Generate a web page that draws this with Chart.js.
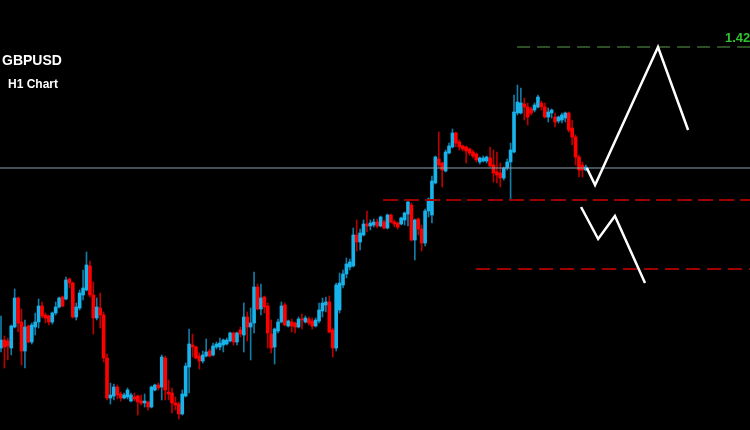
<!DOCTYPE html>
<html><head><meta charset="utf-8">
<script src="https://cdn.jsdelivr.net/npm/chart.js@4.4.0/dist/chart.umd.min.js"></script>
<style>
html,body{margin:0;padding:0;background:#000;}
#wrap{position:relative;width:750px;height:430px;background:#000;overflow:hidden;}
.t{position:absolute;font-family:"Liberation Sans",Arial,sans-serif;font-weight:bold;white-space:nowrap;}
</style></head><body>
<div id="wrap"><canvas id="c"></canvas>
<div class="t" style="left:2px;top:52px;font-size:14px;color:#fff">GBPUSD</div>
<div class="t" style="left:8px;top:77px;font-size:12px;color:#fff">H1 Chart</div>
<div class="t" style="left:725px;top:30px;font-size:13px;color:#2fc42f">1.42</div>
</div>
<script>
// GBPUSD H1 candles
const open = [1.3899,1.3907,1.3906,1.3899,1.3920,1.3949,1.3925,1.3896,1.3921,1.3905,
1.3920,1.3925,1.3941,1.3932,1.3931,1.3925,1.3934,1.3940,1.3950,1.3948,
1.3968,1.3964,1.3930,1.3939,1.3952,1.3957,1.3981,1.3952,1.3929,1.3939,
1.3932,1.3889,1.3849,1.3851,1.3860,1.3853,1.3849,1.3850,1.3846,1.3850,
1.3851,1.3846,1.3844,1.3845,1.3840,1.3857,1.3862,1.3860,1.3889,1.3855,
1.3854,1.3844,1.3843,1.3833,1.3851,1.3880,1.3902,1.3900,1.3891,1.3886,
1.3891,1.3896,1.3892,1.3900,1.3900,1.3902,1.3903,1.3906,1.3914,1.3905,
1.3917,1.3912,1.3930,1.3920,1.3924,1.3960,1.3938,1.3950,1.3941,1.3913,
1.3900,1.3916,1.3925,1.3942,1.3921,1.3925,1.3924,1.3920,1.3928,1.3925,
1.3928,1.3926,1.3921,1.3926,1.3936,1.3942,1.3945,1.3917,1.3899,1.3937,
1.3962,1.3973,1.3980,1.3981,1.4012,1.4005,1.4012,1.4023,1.4021,1.4022,
1.4025,1.4021,1.4025,1.4019,1.4032,1.4025,1.4024,1.4023,1.4027,1.4033,
1.4042,1.4007,1.4028,1.4018,1.4004,1.4036,1.4032,1.4064,1.4088,1.4084,
1.4076,1.4094,1.4100,1.4114,1.4105,1.4101,1.4100,1.4098,1.4095,1.4093,
1.4085,1.4086,1.4086,1.4089,1.4082,1.4075,1.4074,1.4069,1.4079,1.4085,
1.4095,1.4134,1.4134,1.4143,1.4140,1.4138,1.4137,1.4140,1.4144,1.4140,
1.4130,1.4134,1.4130,1.4126,1.4127,1.4129,1.4134,1.4119,1.4110,1.4090,
1.4082,1.4077];
const high = [1.3931,1.3911,1.3909,1.3922,1.3958,1.3950,1.3938,1.3927,1.3922,1.3924,
1.3934,1.3948,1.3945,1.3934,1.3932,1.3935,1.3945,1.3950,1.3951,1.3970,
1.3969,1.3965,1.3944,1.3957,1.3977,1.3995,1.3986,1.3965,1.3949,1.3954,
1.3935,1.3893,1.3864,1.3863,1.3862,1.3855,1.3854,1.3859,1.3854,1.3854,
1.3852,1.3852,1.3853,1.3846,1.3861,1.3863,1.3864,1.3892,1.3891,1.3867,
1.3859,1.3850,1.3845,1.3857,1.3884,1.3918,1.3913,1.3901,1.3894,1.3896,
1.3908,1.3898,1.3904,1.3905,1.3909,1.3908,1.3909,1.3915,1.3915,1.3915,
1.3920,1.3944,1.3935,1.3939,1.3975,1.3963,1.3963,1.3951,1.3944,1.3927,
1.3919,1.3928,1.3945,1.3944,1.3927,1.3928,1.3925,1.3930,1.3933,1.3931,
1.3930,1.3929,1.3929,1.3944,1.3949,1.3950,1.3951,1.3919,1.3964,1.3974,
1.3977,1.3989,1.3988,1.4019,1.4027,1.4018,1.4027,1.4036,1.4027,1.4028,
1.4028,1.4031,1.4027,1.4033,1.4033,1.4027,1.4025,1.4030,1.4035,1.4047,
1.4044,1.4028,1.4029,1.4022,1.4038,1.4049,1.4071,1.4091,1.4115,1.4085,
1.4097,1.4104,1.4118,1.4115,1.4107,1.4102,1.4101,1.4099,1.4097,1.4094,
1.4090,1.4091,1.4091,1.4100,1.4097,1.4095,1.4084,1.4080,1.4088,1.4104,
1.4152,1.4162,1.4159,1.4149,1.4144,1.4140,1.4144,1.4152,1.4146,1.4144,
1.4139,1.4138,1.4134,1.4131,1.4134,1.4135,1.4135,1.4127,1.4112,1.4092,
1.4085,1.4082];
const low = [1.3895,1.3879,1.3887,1.3892,1.3919,1.3915,1.3882,1.3879,1.3904,1.3903,
1.3912,1.3919,1.3929,1.3924,1.3922,1.3923,1.3932,1.3939,1.3940,1.3947,
1.3959,1.3929,1.3927,1.3937,1.3947,1.3956,1.3950,1.3913,1.3927,1.3919,
1.3885,1.3847,1.3843,1.3847,1.3848,1.3846,1.3848,1.3848,1.3845,1.3846,
1.3832,1.3842,1.3840,1.3837,1.3839,1.3856,1.3857,1.3847,1.3847,1.3847,
1.3834,1.3837,1.3828,1.3832,1.3850,1.3854,1.3890,1.3888,1.3878,1.3884,
1.3890,1.3890,1.3891,1.3898,1.3897,1.3895,1.3902,1.3905,1.3902,1.3902,
1.3910,1.3895,1.3906,1.3887,1.3914,1.3937,1.3932,1.3934,1.3899,1.3894,
1.3883,1.3914,1.3924,1.3921,1.3920,1.3915,1.3914,1.3919,1.3918,1.3924,
1.3922,1.3918,1.3920,1.3924,1.3930,1.3935,1.3914,1.3890,1.3896,1.3934,
1.3959,1.3969,1.3977,1.3980,1.3996,1.3997,1.4011,1.4015,1.4017,1.4020,
1.4019,1.4020,1.4018,1.4018,1.4024,1.4020,1.4018,1.4022,1.4022,1.4021,
1.4006,1.3987,1.4012,1.3996,1.4001,1.4030,1.4024,1.4063,1.4080,1.4060,
1.4075,1.4093,1.4099,1.4100,1.4097,1.4096,1.4084,1.4092,1.4089,1.4085,
1.4083,1.4085,1.4084,1.4080,1.4065,1.4064,1.4060,1.4067,1.4077,1.4047,
1.4094,1.4132,1.4133,1.4127,1.4122,1.4132,1.4135,1.4139,1.4137,1.4129,
1.4125,1.4129,1.4120,1.4124,1.4124,1.4125,1.4115,1.4102,1.4082,1.4070,
1.4070,1.4076];
const close = [1.3907,1.3900,1.3901,1.3921,1.3949,1.3924,1.3896,1.3920,1.3905,1.3922,
1.3925,1.3941,1.3931,1.3929,1.3925,1.3934,1.3940,1.3949,1.3941,1.3967,
1.3964,1.3930,1.3940,1.3954,1.3959,1.3982,1.3952,1.3929,1.3940,1.3932,
1.3889,1.3849,1.3852,1.3860,1.3852,1.3849,1.3852,1.3857,1.3852,1.3848,
1.3845,1.3844,1.3846,1.3840,1.3860,1.3862,1.3859,1.3890,1.3857,1.3853,
1.3844,1.3842,1.3833,1.3853,1.3881,1.3903,1.3900,1.3889,1.3886,1.3892,
1.3895,1.3891,1.3901,1.3903,1.3904,1.3907,1.3907,1.3914,1.3905,1.3914,
1.3913,1.3930,1.3920,1.3924,1.3960,1.3938,1.3949,1.3940,1.3914,1.3899,
1.3918,1.3925,1.3941,1.3922,1.3926,1.3921,1.3920,1.3928,1.3927,1.3929,
1.3924,1.3921,1.3927,1.3937,1.3944,1.3945,1.3915,1.3899,1.3962,1.3964,
1.3973,1.3983,1.3985,1.4012,1.4005,1.4014,1.4023,1.4021,1.4024,1.4025,
1.4021,1.4030,1.4019,1.4032,1.4025,1.4023,1.4020,1.4029,1.4034,1.4045,
1.4007,1.4027,1.4018,1.4004,1.4036,1.4048,1.4066,1.4090,1.4082,1.4077,
1.4095,1.4101,1.4114,1.4104,1.4100,1.4098,1.4096,1.4094,1.4091,1.4087,
1.4089,1.4089,1.4090,1.4081,1.4074,1.4072,1.4069,1.4079,1.4085,1.4097,
1.4135,1.4145,1.4144,1.4140,1.4130,1.4134,1.4142,1.4150,1.4140,1.4130,
1.4135,1.4137,1.4125,1.4130,1.4132,1.4134,1.4117,1.4110,1.4090,1.4077,
1.4077,1.4080];

// Levels (price) and where each starts (bar index)
const currentPrice = 1.4079;
const targetLevel = 1.4200, targetFrom = 150.9;
const support1 = 1.4047, support1From = 111.7;
const support2 = 1.3978, support2From = 138.9;
// Projected paths (bar index, price)
const bullPathX = [171.3, 173.7, 192.1, 200.9];
const bullPathY = [1.4079, 1.4062, 1.4200, 1.4117];
const bearPathX = [169.6, 174.6, 179.5, 188.3];
const bearPathY = [1.4040, 1.4008, 1.4031, 1.3964];

const xMin = -0.29, xMax = 219.0;
const yMin = 1.3817, yMax = 1.4247;

const UP = '#17b3ea', DOWN = '#ff0000', UPW = '#147aa6', DOWNW = '#bb0000';
const bodies = open.map((o, i) => ({x: i, y: [o, close[i]]}));
const wicks = open.map((o, i) => ({x: i, y: [low[i], high[i]]}));
const isUp = open.map((o, i) => close[i] >= o);

const hline = (y, from) => [{x: from, y: y}, {x: xMax, y: y}];
const path = (xs, ys) => xs.map((x, i) => ({x: x, y: ys[i]}));

const lineDs = (data, color, width, dash) => ({
  type: 'line', data: data, borderColor: color, borderWidth: width, borderDash: dash || [],
  pointRadius: 0, fill: false, tension: 0, order: 0, borderCapStyle: 'butt'
});

new Chart(document.getElementById('c'), {
  type: 'bar',
  data: {
    datasets: [
      lineDs(path(bullPathX, bullPathY), '#ffffff', 2.5),
      lineDs(path(bearPathX, bearPathY), '#ffffff', 2.5),
      lineDs(hline(targetLevel, targetFrom), '#5d9c4b', 1, [13, 7]),
      lineDs(hline(support1, support1From), '#a00000', 2, [15, 6]),
      lineDs(hline(support2, support2From), '#a00000', 2, [14, 7]),
      lineDs(hline(currentPrice, xMin), '#8fa2b4', 1),
      {
        type: 'bar', data: bodies, grouped: false, order: 1,
        backgroundColor: isUp.map(u => u ? UP : DOWN),
        barThickness: 3, minBarLength: 1, borderWidth: 0
      },
      {
        type: 'bar', data: wicks, grouped: false, order: 2,
        backgroundColor: isUp.map(u => u ? UPW : DOWNW),
        barThickness: 1, borderWidth: 0
      }
    ]
  },
  options: {
    responsive: true, maintainAspectRatio: false, animation: false, devicePixelRatio: 1,
    layout: {padding: 0},
    plugins: {legend: {display: false}, tooltip: {enabled: false}},
    scales: {
      x: {type: 'linear', min: xMin, max: xMax, offset: false, display: false},
      y: {type: 'linear', min: yMin, max: yMax, display: false}
    }
  }
});
</script>
</body></html>
